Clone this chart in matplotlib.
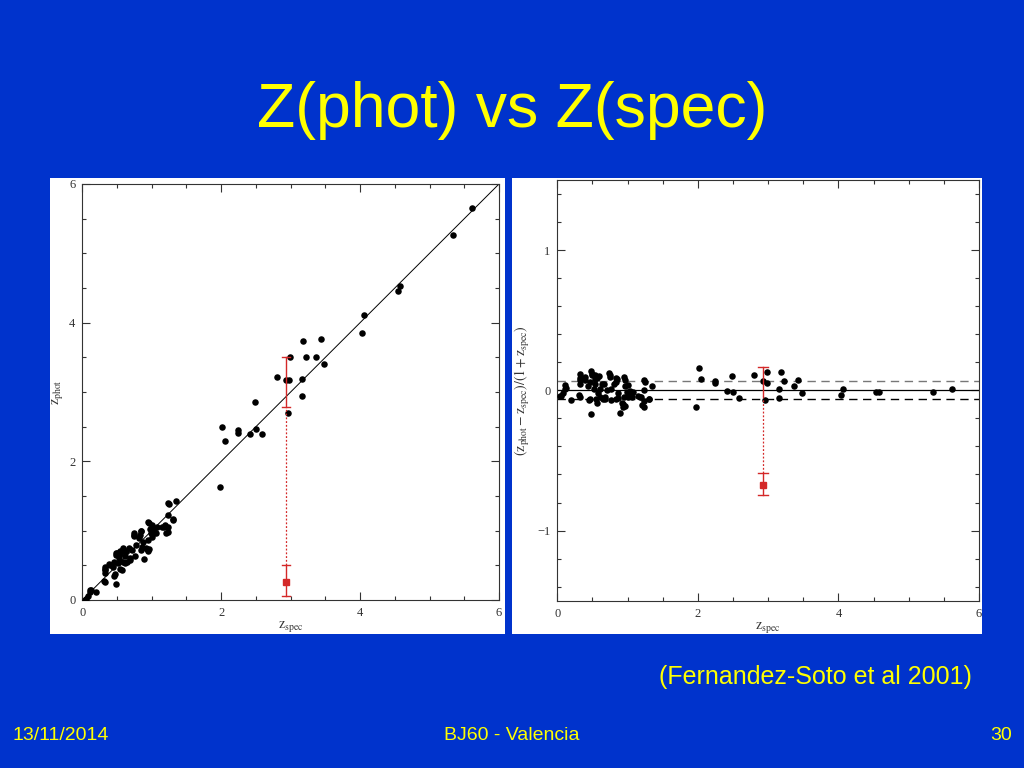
import matplotlib
matplotlib.use("Agg")
import matplotlib.pyplot as plt
from matplotlib.patches import Rectangle
from matplotlib.ticker import MultipleLocator
import numpy as np

plt.rcParams["mathtext.fontset"] = "stix"

# ---------------- data ----------------
z_spec = [5.61, 5.34, 4.58, 4.54, 4.06, 4.03, 3.43, 3.18, 2.99, 3.22, 3.37, 3.48,
          3.16, 2.98, 2.93, 2.80, 3.16, 2.96, 2.49, 2.01, 2.05, 2.24, 2.24, 2.42,
          2.50, 2.59, 1.98, 1.35, 1.25, 1.23, 1.31, 1.23, 1.20,
          0.05, 0.08, 0.11, 0.13, 0.20, 0.32, 0.33, 0.33, 0.40, 0.44, 0.46, 0.47,
          0.48, 0.49, 0.52, 0.53, 0.54, 0.57, 0.58, 0.59, 0.61, 0.63, 0.65, 0.67,
          0.68, 0.71, 0.76, 0.75, 0.77, 0.81, 0.83, 0.84, 0.85, 0.87, 0.89, 0.92,
          0.94, 0.95, 0.96, 0.97, 0.99, 1.00, 1.01, 1.03, 1.06, 1.08, 1.17, 1.19,
          0.32, 0.32, 0.39, 0.31, 0.48, 0.50, 0.54, 0.57, 0.45, 0.55, 0.68, 0.74,
          0.75, 0.84, 0.86, 0.95, 0.93, 0.96, 1.03, 1.15, 1.24, 1.24, 1.31, 0.61,
          0.04, 0.11]
z_phot = [5.66, 5.26, 4.53, 4.46, 4.11, 3.85, 3.76, 3.73, 3.50, 3.51, 3.50, 3.40,
          3.19, 3.18, 3.18, 3.21, 2.94, 2.69, 2.85, 2.49, 2.30, 2.45, 2.41, 2.40,
          2.47, 2.40, 1.63, 1.43, 1.39, 1.23, 1.16, 1.06, 0.97,
          0.01, 0.06, 0.12, 0.15, 0.12, 0.26, 0.43, 0.39, 0.50, 0.48, 0.55, 0.38,
          0.23, 0.65, 0.53, 0.60, 0.67, 0.43, 0.55, 0.75, 0.63, 0.70, 0.55, 0.75,
          0.58, 0.72, 0.64, 0.94, 0.79, 0.89, 0.94, 0.72, 1.00, 0.84, 0.59, 0.75,
          0.71, 0.86, 1.11, 1.03, 0.96, 1.08, 0.91, 1.02, 0.96, 1.06, 1.06, 1.08,
          0.47, 0.44, 0.52, 0.27, 0.68, 0.68, 0.71, 0.71, 0.35, 0.45, 0.60, 0.96,
          0.92, 1.00, 0.76, 1.13, 0.74, 0.74, 0.97, 1.06, 1.40, 0.98, 1.17, 0.53,
          0.00, 0.15]

# outlier with its error bars (red)
red_zspec = 2.93
red_zphot = 0.255
red_left_solid_low = [0.06, 0.51]
red_left_dotted = [0.51, 2.79]
red_left_solid_high = [2.79, 3.50]
red_resid = -0.675
red_right_solid_low = [-0.745, -0.59]
red_right_dotted = [-0.59, -0.04]
red_right_solid_high = [-0.04, 0.17]
scatter_band = [-0.062, 0.069]

title = "Z(phot) vs Z(spec)"
citation = "(Fernandez-Soto et al 2001)"
footer_left, footer_mid, footer_right = "13/11/2014", "BJ60 - Valencia", "30"

# ---------------- figure ----------------
BLUE = "#0033CC"
YELLOW = "#FFFF00"
RED = "#D42828"
W, H = 1024, 768
fig = plt.figure(figsize=(W / 100, H / 100), dpi=100, facecolor=BLUE)

def fx(px):
    return px / W

def fy(py):
    return 1 - py / H

# white panels (behind everything)
for x0, x1 in [(50, 505), (512, 982)]:
    fig.patches.append(Rectangle((fx(x0), fy(634)), fx(x1) - fx(x0), fy(178) - fy(634),
                                 transform=fig.transFigure, facecolor="white",
                                 edgecolor="none", zorder=-10))

serif = ["Liberation Serif", "DejaVu Serif"]
sans = ["Liberation Sans", "DejaVu Sans"]
INK = "#333333"

def style(ax):
    ax.set_facecolor("white")
    for s in ax.spines.values():
        s.set_color(INK)
        s.set_linewidth(0.8)
    ax.tick_params(which="both", direction="in", top=True, right=True, colors=INK,
                   labelsize=9, width=0.8)
    ax.tick_params(which="major", length=6, pad=5)
    ax.tick_params(which="minor", length=3)
    for lab in ax.get_xticklabels() + ax.get_yticklabels():
        lab.set_family(serif)

# left panel
ax1 = fig.add_axes([fx(82.3), fy(600), fx(499) - fx(82.3), fy(184) - fy(600)])
zs = np.array(z_spec)
zp = np.array(z_phot)
ax1.plot([0, 6], [0, 6], color="black", lw=0.7, zorder=2)
ax1.scatter(zs, zp, s=22, color="black", zorder=3, linewidths=0)
ax1.plot([red_zspec] * 2, red_left_solid_low, color=RED, lw=1.0, zorder=4)
ax1.plot([red_zspec] * 2, red_left_dotted, color=RED, lw=0.9, ls=(0, (1.5, 1.5)), zorder=4)
ax1.plot([red_zspec] * 2, red_left_solid_high, color=RED, lw=1.0, zorder=4)
for v in red_left_solid_low + red_left_solid_high:
    ax1.plot([red_zspec - 0.06, red_zspec + 0.06], [v, v], color=RED, lw=1.0, zorder=4)
ax1.plot([red_zspec], [red_zphot], marker="s", color=RED, ms=5, ls="none", zorder=5)
ax1.set_xlim(0, 6)
ax1.set_ylim(0, 6)
ax1.xaxis.set_major_locator(MultipleLocator(2))
ax1.yaxis.set_major_locator(MultipleLocator(2))
ax1.xaxis.set_minor_locator(MultipleLocator(0.5))
ax1.yaxis.set_minor_locator(MultipleLocator(0.5))
style(ax1)
ax1.set_xlabel(r"$\mathrm{z_{spec}}$", fontsize=10, color=INK, labelpad=0)
ax1.set_ylabel(r"$\mathrm{z_{phot}}$", fontsize=10, color=INK, labelpad=3)

# right panel
ax2 = fig.add_axes([fx(557.3), fy(600.7), fx(979) - fx(557.3), fy(180) - fy(600.7)])
resid = (zp - zs) / (1 + zs)
ax2.axhline(0, color="black", lw=0.9, zorder=2)
ax2.axhline(scatter_band[1], color="#777777", lw=1.0, ls=(0, (6, 4)), zorder=2)
ax2.axhline(scatter_band[0], color="black", lw=1.0, ls=(0, (6, 4)), zorder=2)
ax2.scatter(zs, resid, s=22, color="black", zorder=3, linewidths=0)
ax2.plot([red_zspec] * 2, red_right_solid_low, color=RED, lw=1.0, zorder=4)
ax2.plot([red_zspec] * 2, red_right_dotted, color=RED, lw=0.9, ls=(0, (1.5, 1.5)), zorder=4)
ax2.plot([red_zspec] * 2, red_right_solid_high, color=RED, lw=1.0, zorder=4)
for v in [red_right_solid_low[0], red_right_solid_low[1], red_right_solid_high[1]]:
    ax2.plot([red_zspec - 0.07, red_zspec + 0.07], [v, v], color=RED, lw=1.0, zorder=4)
ax2.plot([red_zspec], [red_resid], marker="s", color=RED, ms=5, ls="none", zorder=5)
ax2.set_xlim(0, 6)
ax2.set_ylim(-1.5, 1.5)
ax2.xaxis.set_major_locator(MultipleLocator(2))
ax2.xaxis.set_minor_locator(MultipleLocator(0.5))
ax2.yaxis.set_major_locator(MultipleLocator(1))
ax2.yaxis.set_minor_locator(MultipleLocator(0.2))
style(ax2)
ax2.set_xlabel(r"$\mathrm{z_{spec}}$", fontsize=10, color=INK, labelpad=0)
ax2.set_ylabel(r"$\mathrm{(z_{phot}-z_{spec})/(1+z_{spec})}$", fontsize=10, color=INK,
               labelpad=4)

# slide texts
fig.text(0.5, fy(127), title, ha="center", va="baseline", color=YELLOW, fontsize=45,
         family=sans)
fig.text(fx(972), fy(684), citation, ha="right", va="baseline", color=YELLOW, fontsize=18,
         family=sans)
fig.text(fx(12), fy(740), footer_left, ha="left", va="baseline", color=YELLOW, fontsize=14,
         family=sans)
fig.text(0.5, fy(740), footer_mid, ha="center", va="baseline", color=YELLOW, fontsize=14,
         family=sans)
fig.text(fx(1012), fy(740), footer_right, ha="right", va="baseline", color=YELLOW, fontsize=14,
         family=sans)

fig.savefig("out.png", dpi=100, facecolor=BLUE)
